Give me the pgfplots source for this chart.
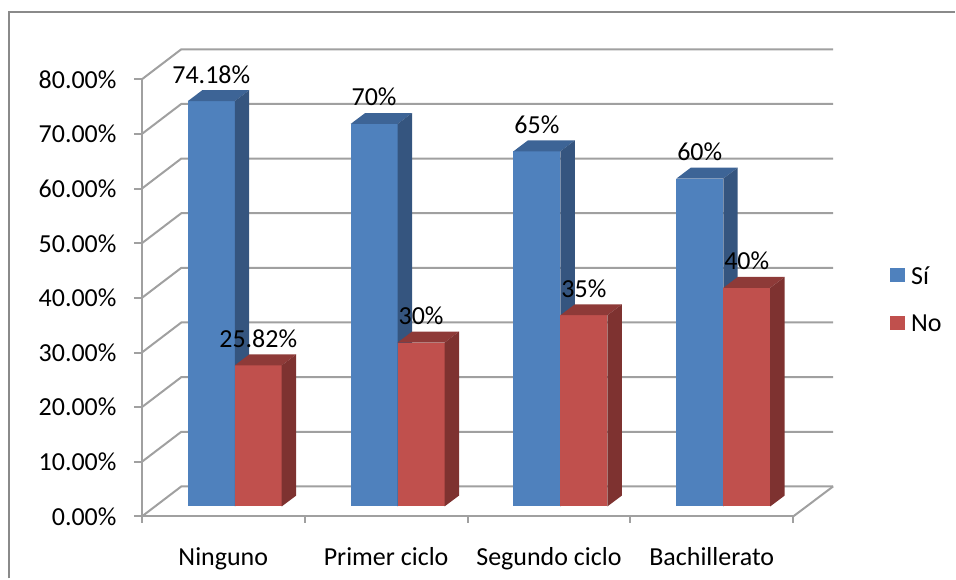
\documentclass[border=0pt]{standalone}
\usepackage{pgfplots}
\pgfplotsset{compat=1.18}
\usepackage{pgfplotstable}
\usepackage{fontspec}
\setmainfont{Carlito}
\definecolor{sifront}{HTML}{4F81BD}
\definecolor{siside}{HTML}{35557F}
\definecolor{sitop}{HTML}{3D6496}
\definecolor{nofront}{HTML}{C0504D}
\definecolor{noside}{HTML}{7E3230}
\definecolor{notop}{HTML}{8E3A38}
\definecolor{linegray}{HTML}{A0A0A0}
\definecolor{bordergray}{HTML}{8A8A8A}

\pgfplotstableread{
i si no
0 74.18 25.82
1 70 30
2 65 35
3 60 40
}\datatable

\begin{document}
\begin{tikzpicture}
\fontsize{13}{15.6}\selectfont
\begin{axis}[
  x=0.5pt, y=2.735pt,
  xmin=142, xmax=794, ymin=0, ymax=80,
  axis x line*=bottom, axis y line*=left,
  axis line style={draw=linegray, line width=1pt},
  clip=false,
  ytick={0,10,...,80},
  yticklabels={0.00\%,10.00\%,20.00\%,30.00\%,40.00\%,50.00\%,60.00\%,70.00\%,80.00\%},
  ytick style={draw=linegray, line width=1pt},
  tick align=outside, major tick length=4pt,
  yticklabel style={font=\fontsize{13}{15.6}\selectfont, inner sep=0pt, anchor=east, xshift=-8.5pt},
  xtick={223.5,386.5,549.5,712.5},
  xticklabels={Ninguno,Primer ciclo,Segundo ciclo,Bachillerato},
  xtick style={draw=none},
  xticklabel style={font=\fontsize{13}{15.6}\selectfont, inner sep=0pt, anchor=base, yshift=-20.65pt},
]
% side wall diagonals and back wall grid
\pgfplotsinvokeforeach{0,10,20,30,40,50,60,70,80}{
  \draw[linegray, line width=1pt] (axis cs:142,#1) -- (axis cs:181.5,#1+5.5) -- (axis cs:834,#1+5.5);
}
\draw[linegray, line width=1pt] (axis cs:794,0) -- (axis cs:834,5.5);
\pgfplotsinvokeforeach{142,305,468,631,794}{
  \draw[linegray, line width=1pt] (axis cs:#1,0) -- ++(0pt,-3.5pt);
}
% bars
\pgfplotsforeachungrouped \r in {0,1,2,3}{%
  \pgfplotstablegetelem{\r}{si}\of\datatable \let\vs\pgfplotsretval
  \pgfplotstablegetelem{\r}{no}\of\datatable \let\vn\pgfplotsretval
  \pgfmathsetmacro\xa{142+163*\r+46}%
  \pgfmathsetmacro\xb{\xa+47}%
  \pgfmathsetmacro\xc{\xb+47}%
  \pgfmathsetmacro\xad{\xa+14.5}%
  \pgfmathsetmacro\xbd{\xb+14.5}%
  \pgfmathsetmacro\xcd{\xc+14.5}%
  \pgfmathsetmacro\b{1.83}%
  \pgfmathsetmacro\bd{1.83+2}%
  \pgfmathsetmacro\ts{1.83+\vs}%
  \pgfmathsetmacro\tsd{\ts+2}%
  \pgfmathsetmacro\tn{1.83+\vn}%
  \pgfmathsetmacro\tnd{\tn+2}%
  \pgfmathsetmacro\ms{\xa+23.5}%
  \pgfmathsetmacro\mn{\xb+23.5}%
  \edef\cmd{%
    \noexpand\addplot[fill=sifront, draw=none] coordinates {(\xa,\b) (\xb,\b) (\xb,\ts) (\xa,\ts)} -- cycle;
    \noexpand\addplot[fill=sitop, draw=none] coordinates {(\xa,\ts) (\xb,\ts) (\xbd,\tsd) (\xad,\tsd)} -- cycle;
    \noexpand\addplot[fill=siside, draw=none] coordinates {(\xb,\b) (\xbd,\bd) (\xbd,\tsd) (\xb,\ts)} -- cycle;
    \noexpand\addplot[fill=nofront, draw=none] coordinates {(\xb,\b) (\xc,\b) (\xc,\tn) (\xb,\tn)} -- cycle;
    \noexpand\addplot[fill=notop, draw=none] coordinates {(\xb,\tn) (\xc,\tn) (\xcd,\tnd) (\xbd,\tnd)} -- cycle;
    \noexpand\addplot[fill=noside, draw=none] coordinates {(\xc,\b) (\xcd,\bd) (\xcd,\tnd) (\xc,\tn)} -- cycle;
    \noexpand\node[anchor=base, inner sep=0pt, yshift=9pt] at (axis cs:\ms,\ts) {\vs\noexpand\%};
    \noexpand\node[anchor=base, inner sep=0pt, yshift=9pt] at (axis cs:\mn,\tn) {\vn\noexpand\%};
  }%
  \cmd
}
% legend
\node[fill=sifront, minimum size=7.25pt, inner sep=0pt] at (axis cs:898.4,44.15) {};
\node[anchor=west, inner sep=0pt] at (axis cs:911.7,44.15) {Sí};
\node[fill=nofront, minimum size=7.25pt, inner sep=0pt] at (axis cs:898.4,35.41) {};
\node[anchor=west, inner sep=0pt] at (axis cs:911.7,35.41) {No};
% chart border (left and top edges only visible) and page size
\draw[bordergray, line width=1pt] (axis cs:9.5,-11.33) -- (axis cs:9.5,92.32) -- (axis cs:956,92.32);
\path (axis cs:0,94.52) rectangle (axis cs:956,-11.33);
\end{axis}
\end{tikzpicture}
\end{document}
